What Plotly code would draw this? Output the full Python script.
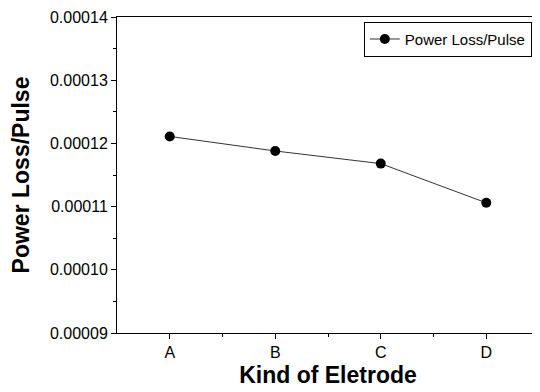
import plotly.graph_objects as go

categories = ["A", "B", "C", "D"]
power_loss = [0.0001211, 0.0001188, 0.0001168, 0.0001106]
series_name = "Power Loss/Pulse"
y_ticks = [0.00009, 0.00010, 0.00011, 0.00012, 0.00013, 0.00014]
y_ticktext = ["0.00009", "0.00010", "0.00011", "0.00012", "0.00013", "0.00014"]

xpos = list(range(len(categories)))

fig = go.Figure()
fig.add_trace(go.Scatter(
    x=xpos, y=power_loss, mode="lines+markers", name=series_name,
    line=dict(color="#333333", width=1),
    marker=dict(color="black", size=10),
))

font_family = "Arial, Liberation Sans, sans-serif"

fig.update_layout(
    width=532, height=384,
    margin=dict(l=109, r=1, t=9, b=59),
    paper_bgcolor="white", plot_bgcolor="white",
    showlegend=True,
    legend=dict(
        x=0.983, y=0.985, xanchor="right", yanchor="top",
        bordercolor="black", borderwidth=1, bgcolor="white",
        font=dict(family=font_family, size=15, color="black"),
        tracegroupgap=0,
    ),
    font=dict(family=font_family, color="black"),
)

fig.update_xaxes(
    range=[-0.5, 3.5],
    tickmode="array", tickvals=xpos, ticktext=categories,
    ticks="outside", ticklen=5, tickwidth=1, tickcolor="black",
    showline=True, linecolor="black", linewidth=1, mirror=True,
    showgrid=False, zeroline=False,
    tickfont=dict(family=font_family, size=16, color="black"),
    minor=dict(tickmode="array", tickvals=[0.5, 1.5, 2.5], ticks="outside",
               ticklen=3, tickcolor="black", showgrid=False),
    title=dict(text="<b>Kind of Eletrode</b>",
               font=dict(family=font_family, size=23, color="black"),
               standoff=6),
)

fig.update_yaxes(
    range=[0.00009, 0.00014],
    tickmode="array", tickvals=y_ticks, ticktext=y_ticktext,
    ticks="outside", ticklen=5, tickwidth=1, tickcolor="black",
    showline=True, linecolor="black", linewidth=1, mirror=True,
    showgrid=False, zeroline=False,
    tickfont=dict(family=font_family, size=16, color="black"),
    minor=dict(dtick=0.000005, tick0=0.00009, ticks="outside",
               ticklen=3, tickcolor="black", showgrid=False),
    title=dict(text="<b>Power Loss/Pulse</b>",
               font=dict(family=font_family, size=23, color="black"),
               standoff=14),
)

fig.write_html("out.html")
